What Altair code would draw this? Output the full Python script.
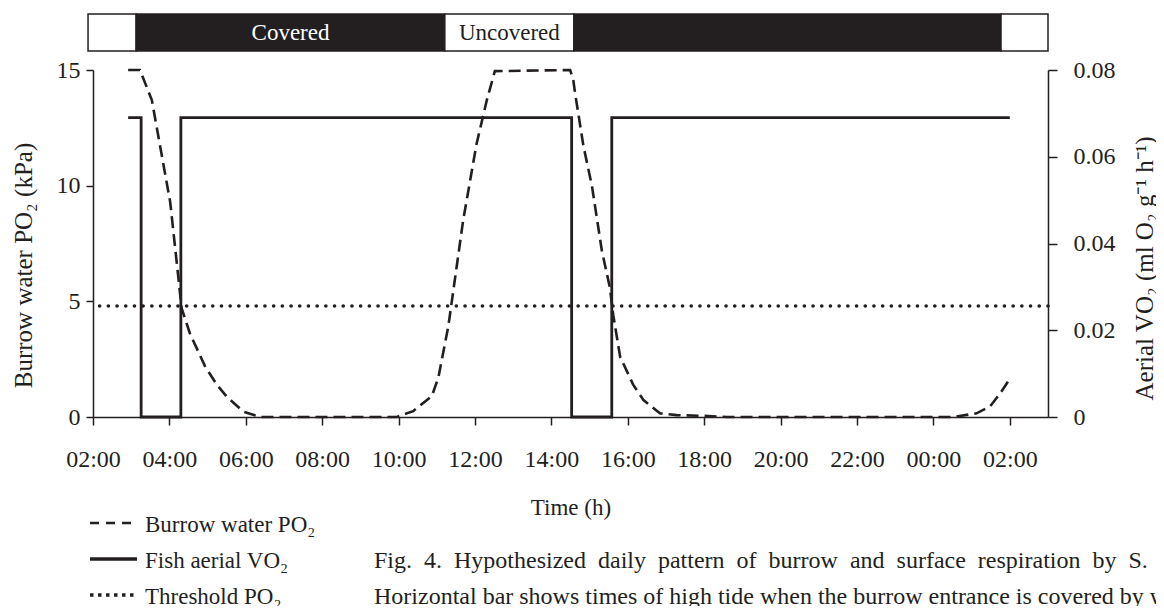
import json
import altair as alt
import pandas as pd

# ---------------- data (time = hours after 02:00) ----------------
burrow_time = [0.92, 1.23, 1.54, 2.02, 2.23, 2.32, 2.54, 2.93, 3.24, 3.50, 3.94, 4.37,
               7.95, 8.38, 8.87, 9.04, 9.30, 9.69, 10.04, 10.31, 10.52,
               12.49, 12.57, 12.62, 12.84, 13.06, 13.32, 13.53, 13.62, 13.80, 14.14, 14.41,
               14.84, 15.28, 15.98, 16.60,
               22.52, 23.13, 23.48, 23.74, 24.00]
burrow_po2 = [15.0, 15.0, 13.7, 9.3, 6.1, 4.7, 3.6, 2.2, 1.4, 0.88, 0.23, 0.0,
              0.0, 0.25, 0.9, 1.7, 3.9, 8.5, 11.8, 13.7, 14.95,
              15.0, 14.6, 14.0, 11.7, 10.0, 7.2, 5.6, 4.4, 2.6, 1.4, 0.73,
              0.16, 0.08, 0.05, 0.0,
              0.0, 0.16, 0.45, 1.0, 1.65]

aerial_time = [0.92, 1.26, 1.26, 2.30, 2.30, 12.53, 12.53, 13.58, 13.58, 24.00]
aerial_vo2 = [0.069, 0.069, 0.0, 0.0, 0.069, 0.069, 0.0, 0.0, 0.069, 0.069]

threshold_po2 = 4.8

tide_start = [-0.13, 1.13, 9.21, 12.59, 23.77]
tide_end = [1.13, 9.21, 12.59, 23.77, 25.0]
tide_state = ["Uncovered", "Covered", "Uncovered", "Covered", "Uncovered"]
tide_label = ["", "Covered", "Uncovered", "", ""]

x_tick_hours = [0, 2, 4, 6, 8, 10, 12, 14, 16, 18, 20, 22, 24]
x_tick_labels = ["02:00", "04:00", "06:00", "08:00", "10:00", "12:00", "14:00",
                 "16:00", "18:00", "20:00", "22:00", "00:00", "02:00"]
left_ticks = [0, 5, 10, 15]
right_ticks = [0, 0.02, 0.04, 0.06, 0.08]
right_tick_labels = ["0", "0.02", "0.04", "0.06", "0.08"]

legend_names = ["Burrow water PO\u2082", "Fish aerial VO\u2082", "Threshold PO\u2082"]
caption_lines = [
    "Fig. 4. Hypothesized daily pattern of burrow and surface respiration by S. l",
    "Horizontal bar shows times of high tide when the burrow entrance is covered by water.",
]

# ---------------- styling ----------------
FONT = "Liberation Serif"
INK = "#231f20"
W, H = 955, 347

burrow_df = pd.DataFrame({"t": burrow_time, "po2": burrow_po2})
aerial_df = pd.DataFrame({"t": aerial_time, "vo2": aerial_vo2, "i": range(len(aerial_time))})
thr_df = pd.DataFrame({"po2": [threshold_po2]})
tide_df = pd.DataFrame({"start": tide_start, "end": tide_end, "state": tide_state, "label": tide_label})

xscale = alt.Scale(domain=[0, 25], nice=False, zero=False)
x_axis = alt.Axis(
    values=x_tick_hours,
    labelExpr=json.dumps(x_tick_labels) + "[round(datum.value / 2)]",
    title="Time (h)", titleX=W / 2, titleY=90, titleAlign="center", titleBaseline="middle",
    titleFontSize=23,
    tickSize=8, labelPadding=22, labelFlush=False, labelOverlap=False,
)


def xenc(field):
    return alt.X(field, scale=xscale, axis=x_axis)


left_scale = alt.Scale(domain=[0, 15], nice=False, zero=True)
left_axis = alt.Axis(
    values=left_ticks, title="Burrow water PO\u2082 (kPa)",
    titleX=-70, titleY=195, titleAngle=270, titleAlign="center", titleBaseline="middle",
    tickSize=7, labelPadding=6,
)
right_axis = alt.Axis(
    orient="right", values=right_ticks,
    labelExpr=json.dumps(right_tick_labels) + "[round(datum.value / 0.02)]",
    title="Aerial VO\u2082 (ml O\u2082 g\u207b\u00b9 h\u207b\u00b9)",
    titleX=96, titleY=198, titleAngle=270, titleAlign="center", titleBaseline="middle",
    tickSize=9, labelPadding=16,
)

burrow = alt.Chart(burrow_df).mark_line(
    color=INK, strokeWidth=2.6, strokeDash=[12, 6]
).encode(
    x=xenc("t:Q"),
    y=alt.Y("po2:Q", scale=left_scale, axis=left_axis),
)
threshold = alt.Chart(thr_df).mark_rule(
    color=INK, strokeWidth=3.6, strokeCap="round", strokeDash=[0.1, 8.6]
).encode(y=alt.Y("po2:Q", scale=left_scale, axis=left_axis))
left = alt.layer(burrow, threshold)

aerial = alt.Chart(aerial_df).mark_line(color=INK, strokeWidth=2.8).encode(
    x=xenc("t:Q"),
    y=alt.Y("vo2:Q", scale=alt.Scale(domain=[0, 0.08], nice=False), axis=right_axis),
    order=alt.Order("i:Q"),
)

tide_bar = alt.Chart(tide_df).mark_rect(stroke=INK, strokeWidth=1.5).encode(
    x=xenc("start:Q"),
    x2="end:Q",
    y=alt.value(-56),
    y2=alt.value(-19),
    color=alt.Color("state:N", scale=alt.Scale(domain=["Covered", "Uncovered"], range=[INK, "white"]), legend=None),
)
tide_text = alt.Chart(tide_df).transform_filter("datum.label != ''").transform_calculate(
    mid="(datum.start + datum.end) / 2",
    tcol="datum.state == 'Covered' ? 'white' : '" + INK + "'",
).mark_text(font=FONT, fontSize=23, baseline="middle", align="center").encode(
    x=xenc("mid:Q"),
    y=alt.value(-37),
    text="label:N",
    fill=alt.Fill("tcol:N", scale=None),
)

# ---------------- legend (drawn below the plot) ----------------
legend_rows = [455, 491, 527]
legend_dash = [[9, 7], [1, 0], [3.5, 4.5]]
legend_width = [2.6, 3.5, 3.5]
legend_layers = []
for name, ry, dash, sw in zip(legend_names, legend_rows, legend_dash, legend_width):
    d = pd.DataFrame({"name": [name]})
    legend_layers.append(
        alt.Chart(d).mark_rule(color=INK, strokeWidth=sw, strokeDash=dash).encode(
            x=alt.value(-3), x2=alt.value(44), y=alt.value(ry - 2)
        )
    )
    legend_layers.append(
        alt.Chart(d).mark_text(font=FONT, fontSize=23, color=INK, align="left", baseline="middle").encode(
            x=alt.value(52), y=alt.value(ry), text="name:N"
        )
    )

# first caption line is justified in the original: widen its word gaps
caption_display = [caption_lines[0].replace(" ", " \u00a0"), caption_lines[1]]
caption_layers = []
for line, ry in zip(caption_display, [491, 527]):
    d = pd.DataFrame({"line": [line]})
    caption_layers.append(
        alt.Chart(d).mark_text(font=FONT, fontSize=24, color=INK, align="left", baseline="middle").encode(
            x=alt.value(281), y=alt.value(ry), text="line:N"
        )
    )

chart = alt.layer(
    tide_bar, tide_text, left, aerial, *legend_layers, *caption_layers
).resolve_scale(
    y="independent"
).properties(
    width=W, height=H,
    autosize=alt.AutoSizeParams(type="none"),
    padding={"left": 85, "top": 62, "right": 108, "bottom": 189},
).configure_axis(
    labelFont=FONT, titleFont=FONT, labelFontSize=24, titleFontSize=25,
    labelColor=INK, titleColor=INK, domainColor=INK, tickColor=INK,
    domainWidth=1.5, tickWidth=1.5, titleFontWeight="normal", grid=False,
).configure_view(stroke=None)

chart.save("out.html", embed_options={"renderer": "svg", "actions": False})
